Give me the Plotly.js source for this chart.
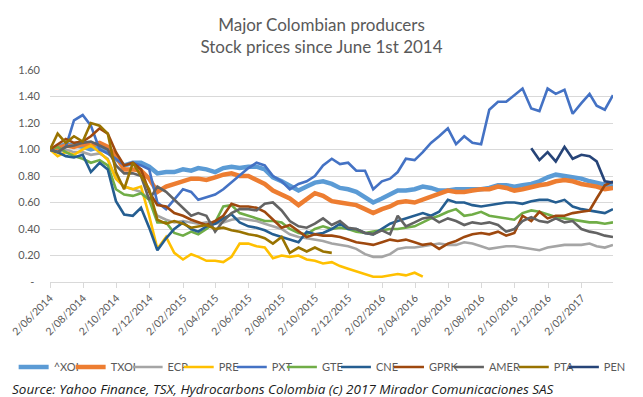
<!DOCTYPE html>
<html><head><meta charset="utf-8">
<script src="https://cdn.plot.ly/plotly-3.0.1.min.js"></script>
<style>html,body{margin:0;padding:0;background:#fff}#chart{width:643px;height:397px}</style>
</head><body><div id="chart"></div>
<script>
// ---- data (relative price, 1.00 = June 2014) ----
const dates = [
 "2014-06-02","2014-06-16","2014-07-01","2014-07-16","2014-08-01","2014-08-16","2014-09-01","2014-09-16","2014-10-01","2014-10-16","2014-11-01","2014-11-16","2014-12-01","2014-12-16",
 "2015-01-01","2015-01-16","2015-02-01","2015-02-16","2015-03-01","2015-03-16","2015-04-01","2015-04-16","2015-05-01","2015-05-16","2015-06-01","2015-06-16","2015-07-01","2015-07-16","2015-08-01","2015-08-16","2015-09-01","2015-09-16","2015-10-01","2015-10-16","2015-11-01","2015-11-16","2015-12-01","2015-12-16",
 "2016-01-01","2016-01-16","2016-02-01","2016-02-16","2016-03-01","2016-03-16","2016-04-01","2016-04-16","2016-05-01","2016-05-16","2016-06-01","2016-06-16","2016-07-01","2016-07-16","2016-08-01","2016-08-16","2016-09-01","2016-09-16","2016-10-01","2016-10-16","2016-11-01","2016-11-16","2016-12-01","2016-12-16",
 "2017-01-01","2017-01-16","2017-02-01","2017-02-16","2017-03-01","2017-03-16","2017-03-31"
];
const XOI  = [1.00,1.02,1.04,1.03,1.02,1.00,1.02,0.98,0.93,0.88,0.90,0.90,0.87,0.82,0.83,0.83,0.85,0.84,0.86,0.85,0.83,0.86,0.87,0.86,0.87,0.87,0.85,0.79,0.76,0.73,0.69,0.72,0.75,0.76,0.74,0.71,0.70,0.68,0.64,0.60,0.63,0.66,0.69,0.69,0.70,0.72,0.71,0.69,0.69,0.70,0.70,0.70,0.70,0.71,0.73,0.73,0.72,0.73,0.74,0.76,0.79,0.81,0.80,0.79,0.78,0.76,0.75,0.73,0.72];
const TXOI = [1.00,1.01,1.03,1.02,1.04,1.03,1.05,1.02,0.95,0.85,0.85,0.84,0.78,0.68,0.72,0.74,0.76,0.78,0.78,0.77,0.79,0.81,0.82,0.80,0.80,0.77,0.74,0.69,0.66,0.63,0.58,0.62,0.67,0.65,0.61,0.60,0.59,0.58,0.55,0.52,0.55,0.57,0.60,0.61,0.60,0.62,0.64,0.66,0.69,0.68,0.68,0.69,0.70,0.70,0.72,0.71,0.69,0.70,0.72,0.73,0.74,0.76,0.77,0.76,0.74,0.73,0.72,0.70,0.71];
const ECP  = [1.00,0.98,1.00,0.98,0.98,0.96,0.97,0.93,0.78,0.72,0.70,0.68,0.62,0.50,0.47,0.45,0.46,0.45,0.44,0.45,0.44,0.45,0.47,0.48,0.47,0.46,0.44,0.42,0.40,0.36,0.34,0.33,0.32,0.31,0.29,0.28,0.27,0.25,0.21,0.19,0.19,0.21,0.25,0.26,0.26,0.27,0.28,0.29,0.28,0.28,0.30,0.29,0.27,0.25,0.26,0.27,0.27,0.26,0.25,0.24,0.26,0.27,0.28,0.28,0.28,0.29,0.27,0.26,0.28];
const PRE  = [1.00,0.95,0.98,0.96,1.00,1.03,0.98,0.92,0.78,0.72,0.70,0.72,0.50,0.25,0.34,0.22,0.17,0.21,0.19,0.16,0.16,0.15,0.19,0.29,0.29,0.27,0.26,0.18,0.20,0.19,0.20,0.17,0.16,0.14,0.15,0.12,0.10,0.08,0.06,0.04,0.04,0.05,0.06,0.05,0.07,0.04];
const PXT  = [1.00,0.98,1.02,1.22,1.26,1.18,1.00,0.97,0.93,0.88,0.90,0.88,0.85,0.60,0.55,0.62,0.70,0.68,0.62,0.64,0.66,0.70,0.75,0.80,0.86,0.90,0.88,0.80,0.76,0.70,0.74,0.76,0.80,0.88,0.93,0.89,0.90,0.84,0.84,0.70,0.76,0.78,0.83,0.93,0.92,0.98,1.05,1.10,1.16,1.04,1.10,1.05,1.04,1.30,1.36,1.36,1.41,1.46,1.31,1.29,1.46,1.42,1.45,1.27,1.35,1.42,1.33,1.30,1.41];
const GTE  = [1.00,1.02,0.98,0.95,0.93,0.90,0.92,0.88,0.70,0.66,0.65,0.67,0.62,0.45,0.45,0.37,0.35,0.38,0.36,0.40,0.45,0.57,0.58,0.52,0.50,0.48,0.46,0.46,0.45,0.40,0.37,0.36,0.40,0.42,0.40,0.41,0.40,0.38,0.37,0.38,0.39,0.40,0.40,0.41,0.42,0.45,0.48,0.50,0.53,0.55,0.50,0.51,0.53,0.50,0.49,0.48,0.47,0.52,0.54,0.53,0.51,0.49,0.48,0.47,0.46,0.45,0.45,0.44,0.45];
const CNE  = [1.00,0.98,0.95,0.94,0.96,0.83,0.90,0.85,0.61,0.51,0.50,0.56,0.41,0.24,0.33,0.40,0.45,0.40,0.38,0.42,0.44,0.48,0.51,0.45,0.42,0.41,0.39,0.36,0.34,0.32,0.30,0.38,0.36,0.37,0.40,0.44,0.40,0.40,0.37,0.36,0.40,0.44,0.46,0.48,0.50,0.52,0.50,0.53,0.62,0.60,0.60,0.58,0.57,0.58,0.59,0.60,0.60,0.59,0.61,0.62,0.62,0.60,0.62,0.57,0.55,0.54,0.53,0.52,0.55];
const GPRK = [1.00,1.04,1.08,1.05,1.06,1.10,1.16,1.12,0.98,0.88,0.90,0.85,0.68,0.58,0.57,0.52,0.50,0.47,0.45,0.43,0.46,0.50,0.59,0.57,0.57,0.56,0.53,0.47,0.41,0.43,0.38,0.34,0.36,0.35,0.35,0.34,0.32,0.30,0.29,0.28,0.30,0.32,0.31,0.32,0.30,0.28,0.29,0.25,0.29,0.31,0.34,0.36,0.37,0.36,0.38,0.35,0.37,0.50,0.46,0.53,0.48,0.50,0.50,0.52,0.53,0.54,0.63,0.73,0.76];
const AMER = [1.00,0.98,1.02,1.03,1.05,1.06,1.03,1.00,0.88,0.82,0.82,0.80,0.62,0.72,0.68,0.62,0.56,0.50,0.52,0.50,0.38,0.46,0.52,0.55,0.55,0.54,0.59,0.60,0.54,0.46,0.42,0.41,0.44,0.48,0.43,0.46,0.41,0.40,0.37,0.36,0.39,0.36,0.50,0.42,0.45,0.48,0.49,0.45,0.48,0.46,0.43,0.45,0.44,0.45,0.43,0.38,0.40,0.46,0.49,0.46,0.45,0.48,0.45,0.46,0.40,0.38,0.37,0.35,0.34];
const PTA  = [1.00,1.12,1.05,1.10,1.06,1.20,1.18,1.12,0.83,0.70,0.90,0.80,0.70,0.47,0.44,0.46,0.44,0.41,0.42,0.43,0.40,0.41,0.39,0.38,0.36,0.35,0.33,0.29,0.34,0.22,0.26,0.23,0.26,0.23,0.22];
const PEN  = [1.01,0.92,0.98,0.91,1.02,0.93,0.96,0.95,0.91,0.76,0.75];
const PEN_START = 58; // index in dates of the first PEN value (2016-11-01)

const seriesNames = ["^XOI","TXOI","ECP","PRE","PXT","GTE","CNE","GPRK","AMER","PTA","PEN"];
const seriesValues = [XOI,TXOI,ECP,PRE,PXT,GTE,CNE,GPRK,AMER,PTA,PEN];

const tickDates = ["2014-06-02","2014-08-02","2014-10-02","2014-12-02","2015-02-02","2015-04-02","2015-06-02","2015-08-02","2015-10-02","2015-12-02","2016-02-02","2016-04-02","2016-06-02","2016-08-02","2016-10-02","2016-12-02","2017-02-02"];
const tickLabels = ["2/06/2014","2/08/2014","2/10/2014","2/12/2014","2/02/2015","2/04/2015","2/06/2015","2/08/2015","2/10/2015","2/12/2015","2/02/2016","2/04/2016","2/06/2016","2/08/2016","2/10/2016","2/12/2016","2/02/2017"];
const yTickVals = [0,0.2,0.4,0.6,0.8,1.0,1.2,1.4,1.6];
const yTickLabels = ["-\u00a0\u00a0","0.20","0.40","0.60","0.80","1.00","1.20","1.40","1.60"];

// ---- styles ----
const colors = ["#5B9BD5","#ED7D31","#A5A5A5","#FFC000","#4472C4","#70AD47","#255E91","#9E480E","#636363","#997300","#264478"];
const widths = [4.5,4.5,2.6,2.6,2.6,2.6,2.6,2.6,2.6,2.6,2.6];
const legendLinePx = [18,76,134,186,240,291,346,400,461,527,578];

const PLOT_L = 50, PLOT_W = 573, PLOT_B = 282, PLOT_H = 212;
const FONT = "Lato, 'Open Sans', sans-serif";

const traces = seriesValues.map((vals, i) => {
  const start = (seriesNames[i] === "PEN") ? PEN_START : 0;
  return {
    type: "scatter", mode: "lines", name: seriesNames[i],
    x: dates.slice(start, start + vals.length), y: vals,
    line: {color: colors[i], width: widths[i]},
    legend: i === 0 ? "legend" : "legend" + (i + 1),
    hoverinfo: "x+y+name"
  };
});

const layout = {
  width: 643, height: 397,
  margin: {l: PLOT_L, r: 643 - PLOT_L - PLOT_W, t: 70, b: 397 - PLOT_B},
  paper_bgcolor: "#ffffff", plot_bgcolor: "#ffffff",
  font: {family: FONT, color: "#595959", size: 11},
  title: {text: "Major Colombian producers<br>Stock prices since June 1st 2014",
          x: 0.5, xanchor: "center", xref: "container", yref: "container", y: 1 - 31/397, yanchor: "top",
          font: {family: FONT, size: 17, color: "#595959"}},
  xaxis: {type: "date", range: [dates[0], dates[dates.length - 1]],
          tickmode: "array", tickvals: tickDates, ticktext: tickLabels, tickangle: -45,
          ticks: "outside", ticklen: 5, tickcolor: "#D9D9D9", tickwidth: 1,
          showline: true, linecolor: "#D9D9D9", linewidth: 1, showgrid: false, zeroline: false,
          tickfont: {size: 10.5, color: "#595959"}},
  yaxis: {range: [0, 1.6], tickmode: "array", tickvals: yTickVals, ticktext: yTickLabels,
          showgrid: true, gridcolor: "#D9D9D9", gridwidth: 1, zeroline: false, showline: false,
          ticks: "", ticklabelstandoff: 9, tickfont: {size: 11, color: "#595959"}},
  annotations: [{
    text: "<i>Source: Yahoo Finance, TSX, Hydrocarbons Colombia (c) 2017 Mirador Comunicaciones SAS</i>",
    xref: "paper", yref: "paper", x: (9 - PLOT_L) / PLOT_W, y: (PLOT_B - 389) / PLOT_H,
    xanchor: "left", yanchor: "middle", showarrow: false,
    font: {family: "'Open Sans', Lato, sans-serif", size: 13.5, color: "#1a1a1a"}
  }],
  showlegend: true
};

legendLinePx.forEach((px, i) => {
  const key = i === 0 ? "legend" : "legend" + (i + 1);
  layout[key] = {
    x: (px - 5 - PLOT_L) / PLOT_W, xanchor: "left",
    y: (PLOT_B - 367) / PLOT_H, yanchor: "middle",
    orientation: "h", bgcolor: "rgba(0,0,0,0)", borderwidth: 0,
    font: {family: FONT, size: 11, color: "#595959"}, itemwidth: 30
  };
});

Plotly.newPlot("chart", traces, layout, {displayModeBar: false, staticPlot: true});
</script></body></html>
